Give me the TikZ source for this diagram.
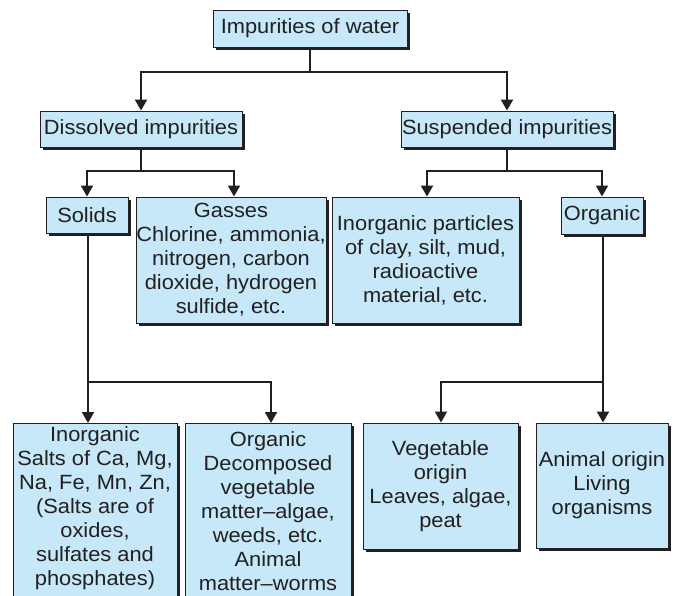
\documentclass[tikz,border=0pt]{standalone}
\usepackage{fontspec}
\setmainfont{Liberation Sans}[FakeStretch=1.06]
\usetikzlibrary{arrows.meta,shadows}
\definecolor{boxblue}{RGB}{198,232,248}
\definecolor{ink}{RGB}{35,31,32}
\tikzset{
  box/.style={draw=ink, line width=0.9pt, fill=boxblue,
    drop shadow={shadow xshift=2.5pt, shadow yshift=-2.5pt, fill=ink, opacity=1},
    inner sep=0pt, align=center, font=\fontsize{20.6}{24}\selectfont, text=ink},
  txt/.style={align=center, inner sep=0pt, font=\fontsize{20.6}{24}\selectfont, text=ink},
  conn/.style={line width=2pt, draw=ink},
  arr/.style={conn, -{Triangle[length=11pt,width=12pt]}},
}
\begin{document}
\begin{tikzpicture}[x=1pt,y=-1pt]
\useasboundingbox (0,0) rectangle (675,595);
% level 0
\node[box, minimum width=194pt, minimum height=37pt] (top) at (310,28.5) {Impurities of water};
% level 1
\node[box, minimum width=202pt, minimum height=36pt] (dis) at (141,129) {Dissolved impurities};
\node[box, minimum width=212pt, minimum height=36pt] (sus) at (507,129) {Suspended impurities};
% level 2
\node[box, minimum width=82pt, minimum height=36pt] (sol) at (87,215) {Solids};
\node[box, minimum width=190pt, minimum height=126pt] (gas) at (231,260)
  {Gasses\\Chlorine, ammonia,\\nitrogen, carbon\\dioxide, hydrogen\\sulfide, etc.};
\node[box, minimum width=187pt, minimum height=126pt] (ipart) at (425.5,260)
  {Inorganic particles\\of clay, silt, mud,\\radioactive\\material, etc.};
\node[box, minimum width=82pt, minimum height=37pt] (org) at (602,215.5) {Organic};
% level 3
\node[box, minimum width=164pt, minimum height=200pt, anchor=north] (inb) at (95,423) {};
\node[txt] (inbt) at (95,508) {Inorganic\\Salts of Ca, Mg,\\Na, Fe, Mn, Zn,\\(Salts are of\\oxides,\\sulfates and\\phosphates)};
\node[box, minimum width=166pt, minimum height=200pt, anchor=north] (orb) at (268,423) {};
\node[txt] (orbt) at (268,511.5) {Organic\\Decomposed\\vegetable\\matter–algae,\\weeds, etc.\\Animal\\matter–worms};
\node[box, minimum width=155pt, minimum height=126pt] (veg) at (440.5,486) {Vegetable\\origin\\Leaves, algae,\\peat};
\node[box, minimum width=132pt, minimum height=125pt] (ani) at (602,485.5) {Animal origin\\Living\\organisms};
% connectors
\coordinate (j1) at (top.south |- 0,72);
\draw[conn] (top.south) -- (j1);
\draw[arr] (j1) -| (dis.north);
\draw[arr] (j1) -| (sus.north);
\coordinate (j2) at (dis.south |- 0,171);
\draw[conn] (dis.south) -- (j2);
\draw[arr] (j2) -| (sol.north);
\draw[arr] (j2) -| ([xshift=3pt]gas.north);
\coordinate (j3) at (sus.south |- 0,171);
\draw[conn] (sus.south) -- (j3);
\draw[arr] (j3) -| ([xshift=1.5pt]ipart.north);
\draw[arr] (j3) -| (org.north);
\coordinate (j4) at ([xshift=1pt]sol.south |- 0,382);
\draw[conn] ([xshift=1pt]sol.south) -- (j4);
\draw[arr] (j4) -- (j4 |- inb.north);
\draw[arr] (j4) -| ([xshift=3pt]orb.north);
\coordinate (j5) at ([xshift=1pt]org.south |- 0,382);
\draw[conn] ([xshift=1pt]org.south) -- (j5);
\draw[arr] (j5) -- (j5 |- ani.north);
\draw[arr] (j5) -| ([xshift=0.5pt]veg.north);
\end{tikzpicture}
\end{document}
